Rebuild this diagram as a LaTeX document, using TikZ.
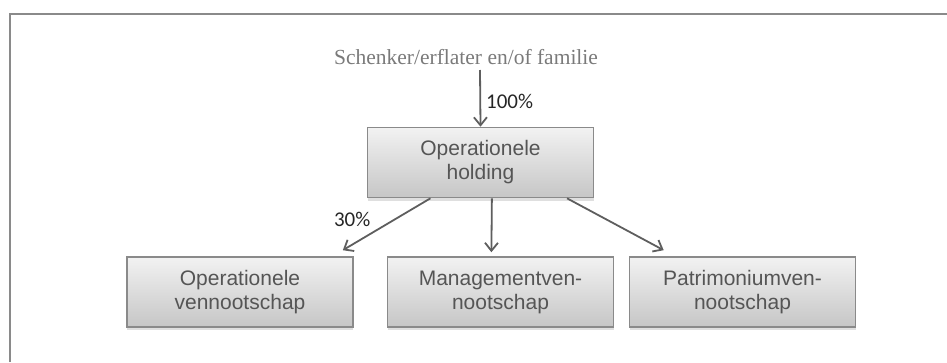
\documentclass[tikz,border=0pt]{standalone}
\usepackage{fontspec}
\setmainfont{Liberation Serif}
\newfontfamily\boxfont{Liberation Sans}
\newfontfamily\pctfont{Carlito}
\usetikzlibrary{arrows.meta,shadows,calc}
\definecolor{framegray}{HTML}{8A8A8A}
\definecolor{linegray}{HTML}{5E5E5E}
\definecolor{boxtop}{HTML}{F2F2F2}
\definecolor{boxbot}{HTML}{C6C6C6}
\definecolor{boxtext}{HTML}{555555}
\definecolor{titletext}{HTML}{7A7A7A}
\tikzset{
  entity/.style={draw=framegray, line width=1.6pt, top color=boxtop, bottom color=boxbot,
    minimum width=226pt, minimum height=70pt, inner sep=0pt, align=center,
    font=\boxfont\fontsize{21}{24}\selectfont, text=boxtext,
    drop shadow={shadow xshift=0pt, shadow yshift=-3pt, fill=gray, opacity=0.25}},
  conn/.style={draw=linegray, line width=1.8pt,
    -{Straight Barb[length=8pt,width=13pt,line width=1.8pt]}},
  pct/.style={font=\pctfont\fontsize{21}{24}\selectfont, text=black!85, inner sep=0pt},
}
\begin{document}
\begin{tikzpicture}[x=1pt,y=-1pt]
\useasboundingbox (0,0) rectangle (947,362);
% frame
\draw[framegray, line width=2pt] (10,362) -- (10,14) -- (947,14);
% title
\node[font=\fontsize{21.5}{24}\selectfont, text=titletext, inner sep=0pt] (title) at (466,57) {Schenker/erflater en/of familie};
% boxes
\node[entity] (hold) at (480.5,162.5) {Operationele\\holding};
\node[entity] (opv) at (240,292) {Operationele\\vennootschap};
\node[entity] (mgt) at (500.5,292) {Managementven-\\nootschap};
\node[entity] (pat) at (742.5,292) {Patrimoniumven-\\nootschap};
% connectors
\coordinate (topstart) at (480,70);
\draw[conn] (topstart) -- (hold.north) node[pct, pos=0.55, anchor=west, xshift=5pt] (p100) {100\%};
\draw[conn] ($(hold.south west)!0.28!(hold.south east)$) -- ($(opv.north east)+(-11pt,6pt)$)
  node[pct, pos=0.55, anchor=south east, xshift=-11pt, yshift=-1pt] (p30) {30\%};
\draw[conn] ($(hold.south west)!0.55!(hold.south east)$) -- ($(mgt.north west)!0.46!(mgt.north east)+(0,4pt)$);
\draw[conn] ($(hold.south west)!0.88!(hold.south east)$) -- ($(pat.north west)+(35pt,6pt)$);
\end{tikzpicture}
\end{document}
